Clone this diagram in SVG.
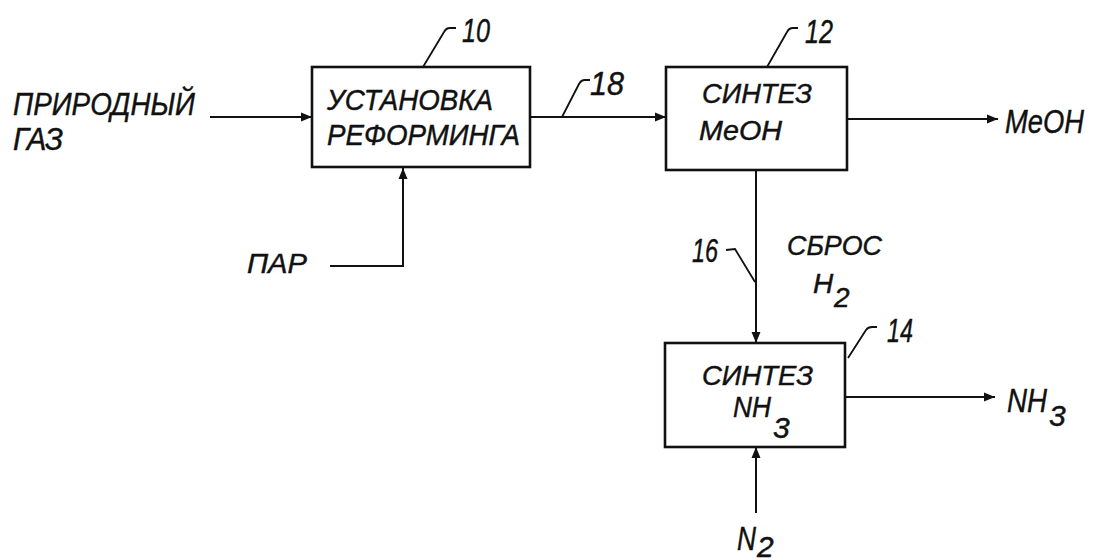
<svg xmlns="http://www.w3.org/2000/svg" width="1094" height="560" viewBox="0 0 1094 560">
<style>
  .box { fill: none; stroke: #111; stroke-width: 2.6; }
  .ln { fill: none; stroke: #111; stroke-width: 2; }
  .ld { fill: none; stroke: #111; stroke-width: 1.8; }
  .t { font-family: "Liberation Sans", Arial, sans-serif; font-style: italic; fill: #111; stroke: #111; stroke-width: 0.45; }
  .s28 { font-size: 28px; }
  .s30 { font-size: 30px; }
  .s34 { font-size: 34px; }
</style>
<defs>
  <marker id="ah" markerUnits="userSpaceOnUse" markerWidth="12" markerHeight="10" refX="11" refY="5" orient="auto">
    <path d="M0,0.5 L11,5 L0,9.5 Z" fill="#111"/>
  </marker>
</defs>
<rect width="1094" height="560" fill="#fff"/>

<g id="connectors">
  <path class="ln" d="M210,117 H312" marker-end="url(#ah)"/>
  <path class="ln" d="M330,266 H403 V168" marker-end="url(#ah)"/>
  <path class="ln" d="M530,117 H666" marker-end="url(#ah)"/>
  <path class="ln" d="M848,119 H998" marker-end="url(#ah)"/>
  <path class="ln" d="M756,170 V343" marker-end="url(#ah)"/>
  <path class="ln" d="M845,397 H995" marker-end="url(#ah)"/>
  <path class="ln" d="M756,513 V447" marker-end="url(#ah)"/>
  <path class="ld" d="M562,117 L579,84 Q581,80 585,80 L590,80"/>
  <path class="ld" d="M726,250 L735,249 L755,282"/>
</g>

<g id="feed-gas">
  <text class="t" style="font-size:31px" x="13" y="115" textLength="182" lengthAdjust="spacingAndGlyphs">ПРИРОДНЫЙ</text>
  <text class="t" style="font-size:31px" x="13" y="150" textLength="50" lengthAdjust="spacingAndGlyphs">ГАЗ</text>
</g>

<g id="feed-steam">
  <text class="t s28" x="247" y="273" textLength="60" lengthAdjust="spacingAndGlyphs">ПАР</text>
</g>

<g id="node-10">
  <rect class="box" x="312" y="67" width="218" height="100"/>
  <text class="t s30" x="327" y="110" textLength="166" lengthAdjust="spacingAndGlyphs">УСТАНОВКА</text>
  <text class="t s30" x="327" y="145" textLength="193" lengthAdjust="spacingAndGlyphs">РЕФОРМИНГА</text>
  <path class="ld" d="M423,67 L444,32 Q446,28 450,28 L456,28"/>
  <text class="t s34" x="462" y="42" textLength="28" lengthAdjust="spacingAndGlyphs">10</text>
</g>

<g id="label-18">
  <text class="t s34" x="590" y="95" textLength="34" lengthAdjust="spacingAndGlyphs">18</text>
</g>

<g id="node-12">
  <rect class="box" x="666" y="67" width="181" height="103"/>
  <text class="t s28" x="702" y="103" textLength="110" lengthAdjust="spacingAndGlyphs">СИНТЕЗ</text>
  <text class="t s28" x="699" y="140" textLength="83" lengthAdjust="spacingAndGlyphs">MeOH</text>
  <path class="ld" d="M767,67 L787,32 Q789,28 793,28 L798,28"/>
  <text class="t s34" x="805" y="43" textLength="28" lengthAdjust="spacingAndGlyphs">12</text>
</g>

<g id="out-meoh">
  <text class="t s34" x="1005" y="133" textLength="79" lengthAdjust="spacingAndGlyphs">MeOH</text>
</g>

<g id="label-16">
  <text class="t s34" x="692" y="262" textLength="26" lengthAdjust="spacingAndGlyphs">16</text>
  <text class="t s28" x="787" y="255" textLength="95" lengthAdjust="spacingAndGlyphs">СБРОС</text>
  <text class="t s28"><tspan x="813" y="293">H</tspan><tspan x="834" y="307">2</tspan></text>
</g>

<g id="node-14">
  <rect class="box" x="665" y="343" width="180" height="104"/>
  <text class="t s28" x="702" y="385" textLength="111" lengthAdjust="spacingAndGlyphs">СИНТЕЗ</text>
  <text class="t s30"><tspan x="733" y="417" textLength="38" lengthAdjust="spacingAndGlyphs">NH</tspan><tspan x="773" y="438">3</tspan></text>
  <path class="ld" d="M848,358 L866,330 Q868,327 872,327 L877,327"/>
  <text class="t s34" x="887" y="342" textLength="26" lengthAdjust="spacingAndGlyphs">14</text>
</g>

<g id="out-nh3">
  <text class="t s34"><tspan x="1007" y="412" textLength="40" lengthAdjust="spacingAndGlyphs">NH</tspan></text>
  <text class="t s30"><tspan x="1049" y="426">3</tspan></text>
</g>

<g id="feed-n2">
  <text class="t s34"><tspan x="737" y="550" textLength="19" lengthAdjust="spacingAndGlyphs">N</tspan></text>
  <text class="t s30"><tspan x="757" y="557">2</tspan></text>
</g>
</svg>
